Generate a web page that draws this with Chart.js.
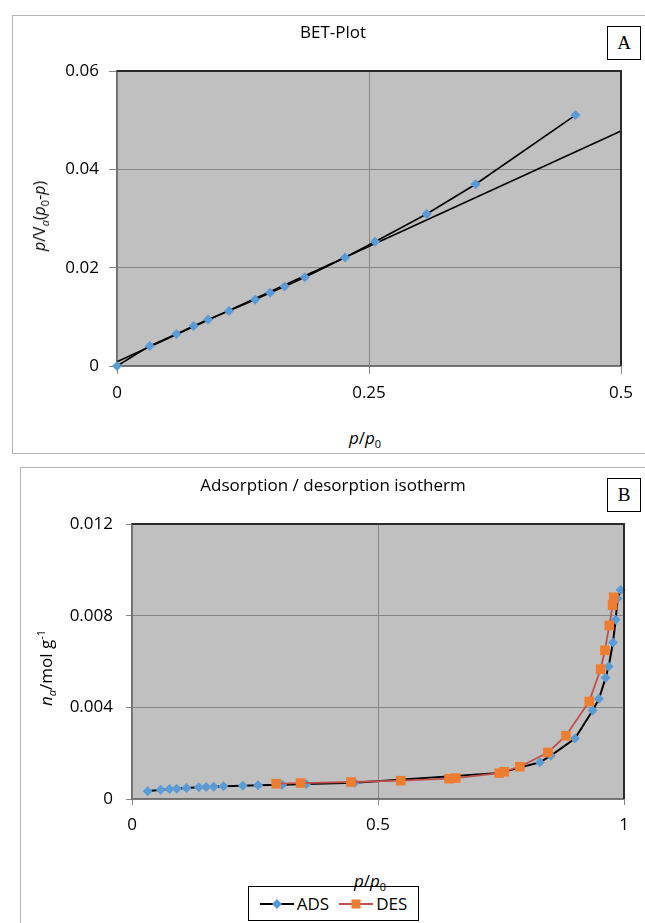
<!DOCTYPE html>
<html>
<head>
<meta charset="utf-8">
<script src="https://cdn.jsdelivr.net/npm/chart.js@4.4.1/dist/chart.umd.min.js"></script>
<style>
  html, body { margin: 0; padding: 0; background: #fff; }
  body { width: 645px; height: 923px; position: relative; overflow: hidden; font-family: 'Open Sans', 'DejaVu Sans', sans-serif; color: #000; }
  canvas { position: absolute; left: 0; }
  .frame { position: absolute; border: 1px solid #b4b4b4; box-sizing: border-box; }
  .ctitle { position: absolute; transform: translate(-50%, -50%); font-size: 17px; white-space: nowrap; }
  .tag { position: absolute; width: 34px; height: 34px; box-sizing: border-box; border: 1.5px solid #000; font-family: 'Liberation Serif', 'DejaVu Serif', serif; font-size: 19px; display: flex; align-items: center; justify-content: center; background: #fff; }
  .atitle { position: absolute; transform: translate(-50%, -50%); font-size: 17px; white-space: nowrap; }
  .atitle.rot { transform: translate(-50%, -50%) rotate(-90deg); }
  .atitle i { font-style: italic; }
  .atitle sub, .atitle sup { font-size: 11px; }
  .atitle sub { vertical-align: -4px; }
  .atitle sup { vertical-align: 7px; }
  #legend { position: absolute; left: 248px; top: 886px; width: 171px; height: 35px; box-sizing: border-box; border: 1.5px solid #000; display: flex; align-items: center; justify-content: center; gap: 10px; font-size: 17px; background: #fff; }
  #legend .item { display: flex; align-items: center; gap: 3px; }
</style>
</head>
<body>
<div class="frame" style="left:12px; top:15px; width:650px; height:439px;"></div>
<div class="frame" style="left:20px; top:467px; width:650px; height:470px;"></div>

<canvas id="betChart" width="645" height="420" style="top:0"></canvas>
<canvas id="isoChart" width="645" height="380" style="top:470px"></canvas>

<div class="ctitle" style="left:333px; top:31px;">BET-Plot</div>
<div class="tag" style="left:607px; top:26px;">A</div>
<div class="atitle" style="left:365px; top:438px;"><i>p</i>/<i>p</i><sub>0</sub></div>
<div class="atitle rot" style="left:40px; top:216px; font-size:16px;"><i>p</i>/V<sub><i>a</i></sub>(<i>p</i><sub>0</sub>-<i>p</i>)</div>

<div class="ctitle" style="left:333px; top:484px;">Adsorption / desorption isotherm</div>
<div class="tag" style="left:607px; top:478px;">B</div>
<div class="atitle rot" style="left:46px; top:668px;"><i>n<sub>a</sub></i>/mol g<sup>-1</sup></div>
<div id="legend"></div>
<div class="atitle" style="left:370px; top:881px;"><i>p</i>/<i>p</i><sub>0</sub></div>

<script>
// ---- BET plot data ----
const betX = [0, 0.0325, 0.0589, 0.0760, 0.0904, 0.1111, 0.1369, 0.1519, 0.1663, 0.1864, 0.2262, 0.2560, 0.3072, 0.3557, 0.4548];
const betY = [0, 0.00408, 0.00652, 0.00815, 0.00944, 0.01121, 0.01345, 0.01488, 0.01617, 0.01807, 0.02208, 0.02528, 0.03092, 0.03696, 0.05103];
// linear fit line end points
const fitX = [0, 0.5];
const fitY = [0.00088, 0.0478];
const betXTicks = [0, 0.25, 0.5];
const betYTicks = [0, 0.02, 0.04, 0.06];

// ---- isotherm data ----
const adsX = [0.0319, 0.0583, 0.0760, 0.0909, 0.1106, 0.1357, 0.1506, 0.1662, 0.1859, 0.2252, 0.2564, 0.3053, 0.3541, 0.4525, 0.7480, 0.8290, 0.8514, 0.9003, 0.9362, 0.9491, 0.9627, 0.9688, 0.9776, 0.9830, 0.9871, 0.9932];
const adsY = [0.000334, 0.000407, 0.000436, 0.000450, 0.000480, 0.000510, 0.000523, 0.000537, 0.000552, 0.000581, 0.000596, 0.000625, 0.000654, 0.000712, 0.00114, 0.00160, 0.00189, 0.00264, 0.00386, 0.00437, 0.00529, 0.00578, 0.00683, 0.00782, 0.00875, 0.00912];
const desX = [0.2931, 0.3426, 0.4450, 0.5461, 0.6445, 0.6580, 0.7463, 0.7564, 0.7883, 0.8453, 0.8820, 0.9294, 0.9525, 0.9613, 0.9701, 0.9769, 0.9790];
const desY = [0.000668, 0.000697, 0.000741, 0.000799, 0.000886, 0.000915, 0.00113, 0.00119, 0.00141, 0.00203, 0.00276, 0.00426, 0.00567, 0.00649, 0.00757, 0.00846, 0.00880];
const isoXTicks = [0, 0.5, 1];
const isoYTicks = [0, 0.004, 0.008, 0.012];
const seriesNames = ['ADS', 'DES'];

const pts = (xs, ys) => xs.map((x, i) => ({ x, y: ys[i] }));

const TICK_FONT = { family: "'Open Sans', sans-serif", size: 17 };
const PLOT_BG = '#c0c0c0';
const GRID = '#868686';

// grey plot area with a dark frame
const plotFrame = {
  id: 'plotFrame',
  beforeDraw(chart) {
    const a = chart.chartArea, c = chart.ctx;
    c.save();
    c.fillStyle = PLOT_BG;
    c.fillRect(a.left, a.top, a.right - a.left, a.bottom - a.top);
    c.restore();
  },
  afterDatasetsDraw(chart) {
    const a = chart.chartArea, c = chart.ctx;
    c.save();
    c.lineWidth = 2;
    c.strokeStyle = '#2a2a2a';
    c.beginPath();
    c.moveTo(a.left, a.top); c.lineTo(a.right, a.top); c.lineTo(a.right, a.bottom);
    c.stroke();
    c.restore();
  }
};

function linearAxis(min, max, ticks, fitSize, horizontal, tickLen, pad) {
  return {
    type: 'linear',
    min, max,
    afterBuildTicks(scale) { scale.ticks = ticks.map(v => ({ value: v })); },
    afterFit(scale) { if (horizontal) scale.height = fitSize; else scale.width = fitSize; },
    ticks: { font: TICK_FONT, color: '#000', padding: pad, callback: v => String(v), maxRotation: 0, autoSkip: false },
    grid: { color: GRID, lineWidth: 1, tickLength: tickLen, tickColor: GRID, drawTicks: true },
    border: { display: true, color: '#6e6e6e', width: 1.5 }
  };
}

new Chart(document.getElementById('betChart'), {
  type: 'scatter',
  data: {
    datasets: [
      {
        label: 'BET',
        data: pts(betX, betY),
        showLine: true,
        borderColor: '#000',
        borderWidth: 1.6,
        pointStyle: 'rectRot',
        pointRadius: 5,
        pointBackgroundColor: '#5b9bd5',
        pointBorderColor: '#5b9bd5',
        pointBorderWidth: 0,
        clip: false,
        order: 1
      },
      {
        label: 'fit',
        data: pts(fitX, fitY),
        showLine: true,
        borderColor: '#000',
        borderWidth: 1.6,
        pointRadius: 0,
        clip: false,
        order: 2
      }
    ]
  },
  options: {
    responsive: false,
    animation: false,
    devicePixelRatio: 1,
    layout: { padding: { top: 71, right: 24, bottom: 0, left: 0 } },
    plugins: { legend: { display: false }, tooltip: { enabled: false }, title: { display: false } },
    scales: {
      x: linearAxis(0, 0.5, betXTicks, 54, true, 8, 9),
      y: linearAxis(0, 0.06, betYTicks, 117, false, 8, 10)
    }
  },
  plugins: [plotFrame]
});

const isoSets = [
  {
    label: seriesNames[0],
    data: pts(adsX, adsY),
    showLine: true,
    borderColor: '#000',
    borderWidth: 2,
    pointStyle: 'rectRot',
    pointRadius: 5,
    pointBackgroundColor: '#5b9bd5',
    pointBorderColor: '#5b9bd5',
    pointBorderWidth: 0,
    clip: false,
    order: 2
  },
  {
    label: seriesNames[1],
    data: pts(desX, desY),
    showLine: true,
    borderColor: '#c0504d',
    borderWidth: 1.8,
    pointStyle: 'rect',
    pointRadius: 6.8,
    pointBackgroundColor: '#ed7d31',
    pointBorderColor: '#ed7d31',
    pointBorderWidth: 0,
    clip: false,
    order: 1
  }
];

new Chart(document.getElementById('isoChart'), {
  type: 'scatter',
  data: { datasets: isoSets },
  options: {
    responsive: false,
    animation: false,
    devicePixelRatio: 1,
    layout: { padding: { top: 54, right: 21, bottom: 0, left: 0 } },
    plugins: { legend: { display: false }, tooltip: { enabled: false }, title: { display: false } },
    scales: {
      x: linearAxis(0, 1, isoXTicks, 51, true, 6, 10),
      y: linearAxis(0, 0.012, isoYTicks, 132, false, 6, 13)
    }
  },
  plugins: [plotFrame]
});

// legend: a short line with the series marker, then the series name
const legend = document.getElementById('legend');
isoSets.forEach(ds => {
  const item = document.createElement('div');
  item.className = 'item';
  const sw = document.createElement('canvas');
  sw.width = 34; sw.height = 14;
  sw.style.position = 'static';
  const c = sw.getContext('2d');
  c.strokeStyle = ds.borderColor; c.lineWidth = ds.borderWidth;
  c.beginPath(); c.moveTo(0, 7); c.lineTo(34, 7); c.stroke();
  c.fillStyle = ds.pointBackgroundColor;
  if (ds.pointStyle === 'rectRot') {
    c.beginPath(); c.moveTo(17, 2); c.lineTo(22, 7); c.lineTo(17, 12); c.lineTo(12, 7); c.closePath(); c.fill();
  } else {
    c.fillRect(12.5, 2.5, 9, 9);
  }
  const txt = document.createElement('span');
  txt.textContent = ds.label;
  item.appendChild(sw); item.appendChild(txt);
  legend.appendChild(item);
});
</script>
</body>
</html>
